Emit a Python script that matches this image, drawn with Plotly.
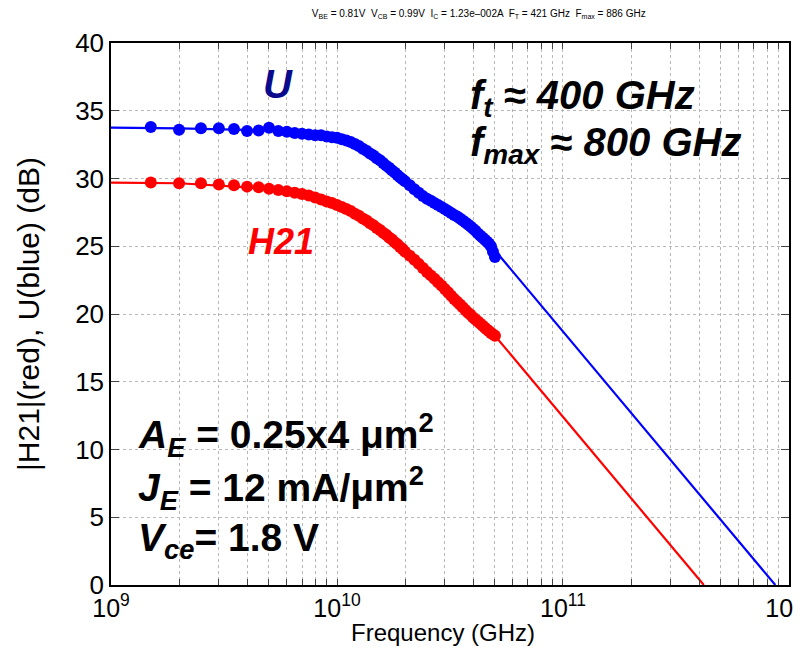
import plotly.graph_objects as go

# ---- measured data (frequency in GHz, gain in dB) ----
freq_ghz = [1.5, 2, 2.5, 3, 3.5, 4, 4.5, 5, 5.5, 6, 6.5, 7, 7.5, 8, 8.5, 9, 9.5, 10,
            10.5, 11, 11.5, 12, 12.5, 13, 13.5, 14, 14.5, 15, 15.5, 16, 16.5, 17, 17.5, 18,
            18.5, 19, 19.5, 20, 21, 22, 23, 24, 25, 26, 27, 28, 29, 30,
            31, 32, 33, 34, 35, 36, 37, 38, 39, 40, 41, 42, 43, 44, 45, 46, 47, 48, 49, 50]

h21_db = [29.7, 29.65, 29.65, 29.55, 29.5, 29.4, 29.35, 29.25, 29.15, 29.05, 28.95, 28.85,
          28.75, 28.6, 28.45, 28.3, 28.2, 28.05,
          27.9, 27.75, 27.6, 27.4, 27.25, 27.05, 26.9, 26.7, 26.55, 26.35, 26.2, 26.0, 25.85,
          25.65, 25.5, 25.3, 25.15, 24.95, 24.8, 24.6,
          24.3, 24.0, 23.7, 23.4, 23.1, 22.85, 22.6, 22.35, 22.1, 21.85, 21.6, 21.35, 21.1,
          20.9, 20.7, 20.5, 20.3, 20.1, 19.95, 19.75, 19.6, 19.45, 19.3, 19.15, 19.0, 18.85,
          18.75, 18.6, 18.5, 18.4]

u_db = [33.8, 33.6, 33.7, 33.7, 33.65, 33.5, 33.55, 33.75, 33.5, 33.45, 33.35, 33.3,
        33.25, 33.2, 33.2, 33.1, 33.05, 33.0,
        32.9, 32.8, 32.7, 32.55, 32.4, 32.2, 32.05, 31.85, 31.7, 31.5, 31.35, 31.15, 30.95,
        30.8, 30.6, 30.45, 30.25, 30.1, 29.95, 29.8,
        29.5, 29.2, 28.95, 28.7, 28.5, 28.35, 28.2, 28.05, 27.9, 27.75, 27.6, 27.45, 27.3,
        27.2, 27.05, 26.9, 26.75, 26.6, 26.45, 26.3, 26.15, 25.95, 25.8, 25.65, 25.5, 25.35,
        25.2, 25.0, 24.6, 24.2]

# ---- model fit lines (frequency in Hz) ----
h21_fit_f = [1e9, 2e9, 5e9, 1e10, 1.5e10, 2e10, 3e10, 4e10, 5e10, 1e11, 2e11, 4.2e11]
h21_fit_db = [29.7, 29.65, 29.25, 28.0, 26.35, 24.6, 21.85, 19.8, 18.4, 12.4, 6.4, 0.0]

u_fit_f = [1e9, 2e9, 5e9, 1e10, 1.5e10, 2e10, 3e10, 4e10, 5e10, 1e11, 2e11, 4e11, 8.7e11]
u_fit_db = [33.75, 33.7, 33.55, 33.0, 31.6, 29.9, 27.7, 25.9, 24.7, 18.7, 12.7, 6.7, 0.0]

# ---- axis ticks ----
x_tickvals = [1e9, 2e9, 3e9, 4e9, 5e9, 6e9, 7e9, 8e9, 9e9,
              1e10, 2e10, 3e10, 4e10, 5e10, 6e10, 7e10, 8e10, 9e10,
              1e11, 2e11, 3e11, 4e11, 5e11, 6e11, 7e11, 8e11, 9e11, 1e12]
x_ticktext = ["10<sup>9</sup>", "", "", "", "", "", "", "", "",
              "10<sup>10</sup>", "", "", "", "", "", "", "", "",
              "10<sup>11</sup>", "", "", "", "", "", "", "", "",
              "10<sup>12</sup>"]
y_tickvals = [0, 5, 10, 15, 20, 25, 30, 35, 40]

freq_hz = [f * 1e9 for f in freq_ghz]

BLUE = "#0000ff"
RED = "#ff0000"
FONT = "Liberation Sans, Arial, Helvetica, sans-serif"

fig = go.Figure()
fig.add_trace(go.Scatter(x=u_fit_f, y=u_fit_db, mode="lines",
                         line=dict(color=BLUE, width=2.2), showlegend=False))
fig.add_trace(go.Scatter(x=h21_fit_f, y=h21_fit_db, mode="lines",
                         line=dict(color=RED, width=2.2), showlegend=False))
fig.add_trace(go.Scatter(x=freq_hz, y=u_db, mode="markers",
                         marker=dict(color=BLUE, size=12, line=dict(width=0)),
                         showlegend=False))
fig.add_trace(go.Scatter(x=freq_hz, y=h21_db, mode="markers",
                         marker=dict(color=RED, size=12, line=dict(width=0)),
                         showlegend=False))

fig.add_annotation(x=0.246, y=0.925, xref="paper", yref="paper", showarrow=False,
                   xanchor="center", yanchor="middle", text="<b><i>U</i></b>",
                   font=dict(family=FONT, size=40, color="#0a0a8c"))
fig.add_annotation(x=0.25, y=0.633, xref="paper", yref="paper", showarrow=False,
                   xanchor="center", yanchor="middle", text="<b><i>H21</i></b>",
                   font=dict(family=FONT, size=36, color=RED))

fig.add_annotation(x=0.526, y=0.898, xref="paper", yref="paper", showarrow=False,
                   xanchor="left", yanchor="middle", align="left",
                   text="<b><i>f<sub>t</sub> ≈ 400 GHz</i></b>",
                   font=dict(family=FONT, size=40, color="black"))
fig.add_annotation(x=0.526, y=0.812, xref="paper", yref="paper", showarrow=False,
                   xanchor="left", yanchor="middle", align="left",
                   text="<b><i>f<sub>max</sub></i> ≈ <i>800 GHz</i></b>",
                   font=dict(family=FONT, size=40, color="black"))

left_lines = [
    (0.277, "<b><i>A<sub>E</sub></i> = 0.25x4 μm<sup>2</sup></b>"),
    (0.179, "<b><i>J<sub>E</sub></i> = 12 mA/μm<sup>2</sup></b>"),
    (0.083, "<b><i>V<sub>ce</sub></i>= 1.8 V</b>"),
]
for yy, txt in left_lines:
    fig.add_annotation(x=0.037, y=yy, xref="paper", yref="paper", showarrow=False,
                       xanchor="left", yanchor="middle", align="left", text=txt,
                       font=dict(family=FONT, size=39, color="black"))

# x-axis title placed as an annotation just below the tick labels
fig.add_annotation(x=0.49, y=-0.087, xref="paper", yref="paper", showarrow=False,
                   xanchor="center", yanchor="middle", text="Frequency (GHz)",
                   font=dict(family=FONT, size=24, color="black"))

fig.update_layout(
    width=802, height=641,
    margin=dict(l=103, r=21, t=35, b=64),
    paper_bgcolor="white", plot_bgcolor="white",
    font=dict(family=FONT, color="black"),
    title=dict(
        text="V<sub>BE</sub> = 0.81V  V<sub>CB</sub> = 0.99V  I<sub>C</sub> = 1.23e–002A  "
             "F<sub>T</sub> = 421 GHz  F<sub>max</sub> = 886 GHz",
        x=0.587, xanchor="center", y=0.997, yanchor="top",
        font=dict(family=FONT, size=10, color="black")),
    showlegend=False,
)
fig.update_xaxes(
    type="log", range=[8.9999, 12.0001], tickmode="array", tickvals=x_tickvals,
    ticktext=x_ticktext, automargin=False, ticklabeloverflow="allow",
    showgrid=True, gridcolor="#b8b8b8", griddash="dot", gridwidth=1,
    showline=True, linecolor="black", linewidth=1.5, mirror="ticks",
    ticks="inside", ticklen=6, tickcolor="#444",
    tickfont=dict(size=25), zeroline=False,
)
fig.update_yaxes(
    range=[0, 40], tickmode="array", tickvals=y_tickvals, automargin=False,
    showgrid=True, gridcolor="#b8b8b8", griddash="dot", gridwidth=1,
    showline=True, linecolor="black", linewidth=1.5, mirror="ticks",
    ticks="inside", ticklen=8, tickcolor="#444",
    tickfont=dict(size=26), zeroline=False,
    title=dict(text="|H21|(red), U(blue) (dB)", font=dict(size=30), standoff=27),
)

fig.write_html("out.html")
